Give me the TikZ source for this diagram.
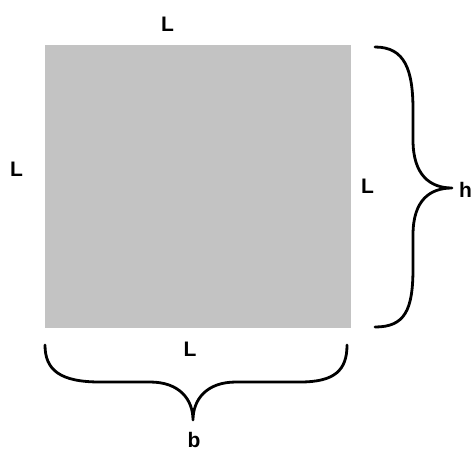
\documentclass[tikz,border=0pt]{standalone}
\usepackage{fontspec}
\setmainfont{Liberation Sans}
\definecolor{sqgray}{HTML}{C3C3C3}
\begin{document}
\begin{tikzpicture}[x=1pt,y=-1pt,
  lbl/.style={font=\fontsize{21}{21}\selectfont\bfseries, inner sep=0pt, anchor=base},
  brace/.style={line width=2.8pt, line cap=round, line join=round}]
\clip (0,0) rectangle (473,450);
\fill[white] (0,0) rectangle (473,450);
\fill[sqgray] (45,45) rectangle (351,328);
\node[lbl] (top) at (167.5,31) {L};
\node[lbl] (left) at (16.5,176) {L};
\node[lbl] (right) at (367.5,193) {L};
\node[lbl] (bottom) at (190,356) {L};
\node[lbl, anchor=base west] (h) at (459,197) {h};
\node[lbl] (b) at (194,447) {b};
\draw[brace] (375,47) .. controls (405,47) and (413,70) .. (413,110) -- (413,140)
  .. controls (413,175) and (430,188) .. (452,188)
  .. controls (430,188) and (413,200) .. (413,235) -- (413,268)
  .. controls (413,310) and (405,327) .. (375,327);
\draw[brace] (45,345) .. controls (45,370) and (60,382) .. (100,382) -- (150,382)
  .. controls (180,382) and (193,400) .. (193,420)
  .. controls (193,400) and (206,382) .. (236,382) -- (300,382)
  .. controls (335,382) and (347,370) .. (347,345);
\end{tikzpicture}
\end{document}
